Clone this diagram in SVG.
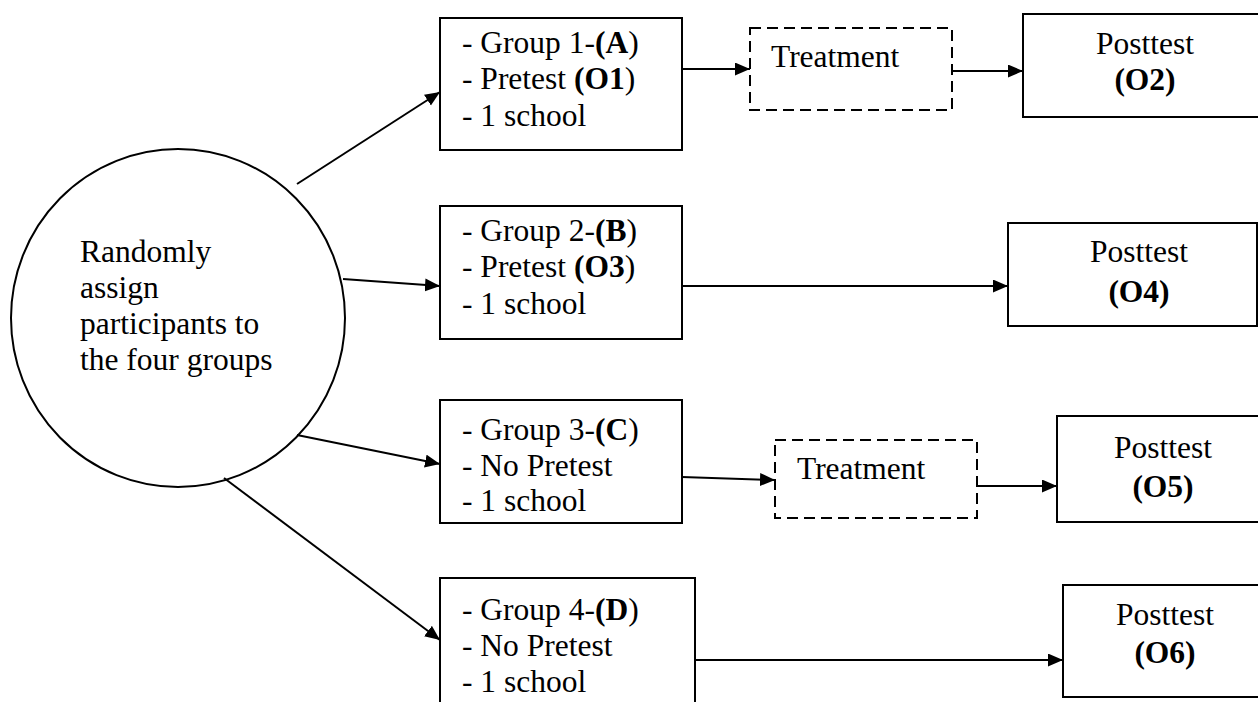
<svg xmlns="http://www.w3.org/2000/svg" width="1258" height="702" viewBox="0 0 1258 702">
<style>
text{font-size:31.5px;fill:#000}
.b{font-weight:bold}
.box{fill:#fff;stroke:#000;stroke-width:2}
.dash{fill:#fff;stroke:#000;stroke-width:2;stroke-dasharray:11 6}
.c{text-anchor:middle}
#connectors line{stroke:#000;stroke-width:2;marker-end:url(#ah)}
</style>
<defs>
<marker id="ah" markerUnits="userSpaceOnUse" markerWidth="16" markerHeight="14" refX="15" refY="6.5" orient="auto">
<path d="M0,0 L15,6.5 L0,13 z" fill="#000"/>
</marker>
</defs>
<rect width="1258" height="702" fill="#fff"/>
<g font-family="Liberation Serif, Times New Roman, serif">
<g id="circle">
<ellipse cx="178" cy="318" rx="167" ry="169" fill="#fff" stroke="#000" stroke-width="2"/>
<text x="80" y="262">Randomly</text>
<text x="80" y="298">assign</text>
<text x="80" y="334">participants to</text>
<text x="80" y="370">the four groups</text>
</g>
<g id="group1">
<rect class="box" x="440" y="18" width="242" height="132"/>
<text x="462" y="53">- Group 1-<tspan class="b">(A</tspan>)</text>
<text x="462" y="89">- Pretest <tspan class="b">(O1</tspan>)</text>
<text x="462" y="126">- 1 school</text>
</g>
<g id="treatment1">
<rect class="dash" x="750" y="28" width="202" height="82"/>
<text x="771" y="67">Treatment</text>
</g>
<g id="posttest1">
<rect class="box" x="1023" y="14" width="240" height="103"/>
<text class="c" x="1145" y="54">Posttest</text>
<text class="c b" x="1145" y="90">(O2)</text>
</g>
<g id="group2">
<rect class="box" x="440" y="206" width="242" height="133"/>
<text x="462" y="241">- Group 2-<tspan class="b">(B</tspan>)</text>
<text x="462" y="277">- Pretest <tspan class="b">(O3</tspan>)</text>
<text x="462" y="314">- 1 school</text>
</g>
<g id="posttest2">
<rect class="box" x="1008" y="223" width="249" height="103"/>
<text class="c" x="1139" y="262">Posttest</text>
<text class="c b" x="1139" y="302">(O4)</text>
</g>
<g id="group3">
<rect class="box" x="440" y="400" width="242" height="123"/>
<text x="462" y="440">- Group 3-<tspan class="b">(C</tspan>)</text>
<text x="462" y="476">- No Pretest</text>
<text x="462" y="511">- 1 school</text>
</g>
<g id="treatment2">
<rect class="dash" x="775" y="440" width="202" height="78"/>
<text x="797" y="479">Treatment</text>
</g>
<g id="posttest3">
<rect class="box" x="1057" y="416" width="205" height="106"/>
<text class="c" x="1163" y="458">Posttest</text>
<text class="c b" x="1163" y="497">(O5)</text>
</g>
<g id="group4">
<rect class="box" x="440" y="578" width="255" height="140"/>
<text x="462" y="620">- Group 4-<tspan class="b">(D</tspan>)</text>
<text x="462" y="656">- No Pretest</text>
<text x="462" y="692">- 1 school</text>
</g>
<g id="posttest4">
<rect class="box" x="1063" y="585" width="200" height="112"/>
<text class="c" x="1165" y="625">Posttest</text>
<text class="c b" x="1165" y="663">(O6)</text>
</g>
</g>
<g id="connectors">
<line x1="297" y1="184" x2="440" y2="92"/>
<line x1="343" y1="279" x2="440" y2="286"/>
<line x1="297" y1="435" x2="440" y2="464"/>
<line x1="224" y1="478" x2="440" y2="640"/>
<line x1="682" y1="69" x2="750" y2="69"/>
<line x1="952" y1="71" x2="1023" y2="71"/>
<line x1="682" y1="286" x2="1008" y2="286"/>
<line x1="682" y1="477" x2="775" y2="480"/>
<line x1="977" y1="486" x2="1057" y2="486"/>
<line x1="695" y1="660" x2="1063" y2="660"/>
</g>
</svg>
